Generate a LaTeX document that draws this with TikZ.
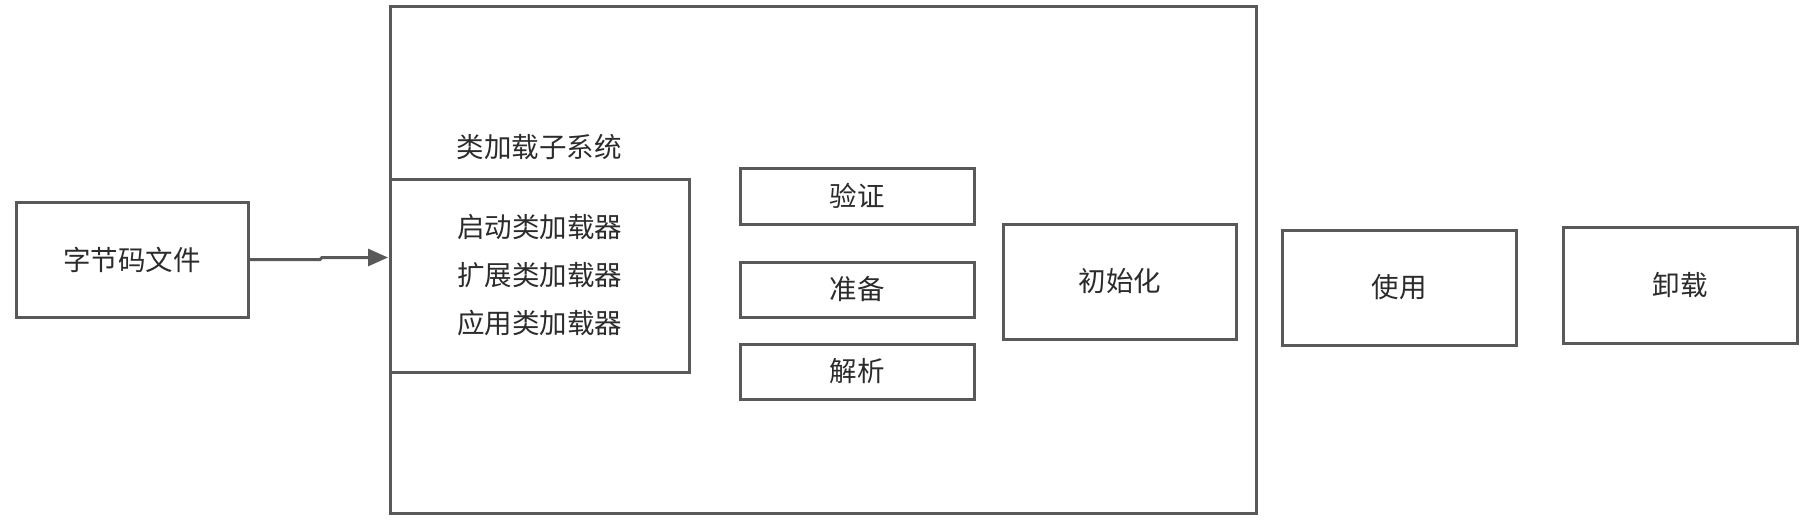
\documentclass[tikz,border=0pt]{standalone}
\usepackage{fontspec}
\newfontfamily\cjk{Noto Sans CJK SC}
\usetikzlibrary{arrows.meta}
\definecolor{edge}{HTML}{595959}
\definecolor{ink}{HTML}{2B2B2B}
\begin{document}
\begin{tikzpicture}[x=1pt,y=-1pt,
  box/.style={draw=edge,line width=3pt,inner sep=0pt,outer sep=0pt,text=ink,
    font={\cjk\fontsize{27.5}{48}\selectfont},align=center},
  lbl/.style={text=ink,font={\cjk\fontsize{27.5}{48}\selectfont},inner sep=0pt}]
\useasboundingbox[fill=white] (0,0) rectangle (1815,520);
\node[box,minimum width=866pt,minimum height=507pt] (big) at (823,259.5) {};
\node[box,minimum width=232pt,minimum height=115pt] (file) at (132,259.5) {字节码文件};
\node[box,minimum width=299pt,minimum height=193pt] (sub) at (539.5,275.5) {启动类加载器\\扩展类加载器\\应用类加载器};
\node[lbl] (title) at (539,147) {类加载子系统};
\node[box,minimum width=234pt,minimum height=56pt] (verify) at (857,196) {验证};
\node[box,minimum width=234pt,minimum height=55pt] (prepare) at (857,289.5) {准备};
\node[box,minimum width=234pt,minimum height=55pt] (resolve) at (857,371.5) {解析};
\node[box,minimum width=233pt,minimum height=115pt] (init) at (1120,281.5) {初始化};
\node[box,minimum width=234pt,minimum height=115pt] (use) at (1399,287.5) {使用};
\node[box,minimum width=234pt,minimum height=116pt] (unload) at (1680,285) {卸载};
\coordinate (tip) at (388,257.5);
\draw[edge,line width=3pt,-{Triangle[length=20pt,width=17pt]}]
  (file.east) -- ++(72,0) -- ++(2,-2) -- (tip);
\end{tikzpicture}
\end{document}
